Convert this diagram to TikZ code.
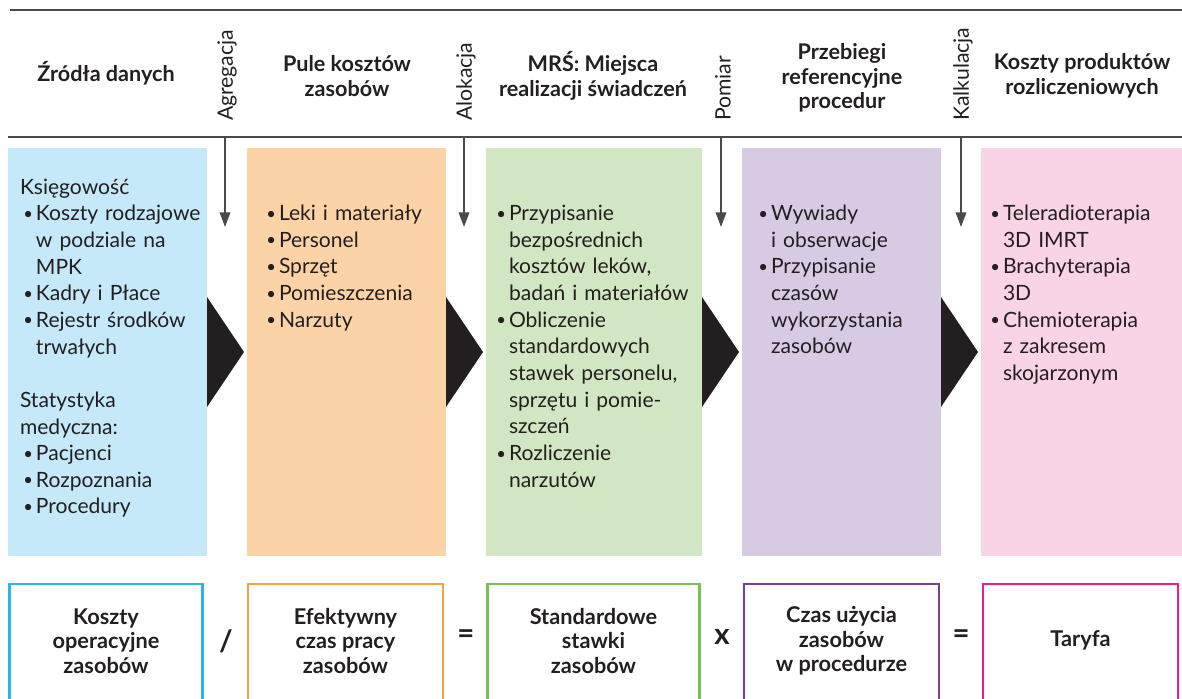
\documentclass[tikz,border=0pt]{standalone}
\usepackage{fontspec}
\setmainfont{Lato}
\usetikzlibrary{calc,arrows.meta}

\definecolor{ink}{HTML}{231F20}
\definecolor{rulegray}{HTML}{4A4A4A}
\definecolor{blueF}{HTML}{C6E9F9}
\definecolor{orangeF}{HTML}{FCD3A7}
\definecolor{greenF}{HTML}{D1E7C3}
\definecolor{purpleF}{HTML}{D7CBE4}
\definecolor{pinkF}{HTML}{F8D4E6}
\definecolor{blueL}{HTML}{29B6EC}
\definecolor{orangeL}{HTML}{F7A145}
\definecolor{greenL}{HTML}{79C050}
\definecolor{purpleL}{HTML}{7A3E98}
\definecolor{pinkL}{HTML}{EC1C8C}

\newcommand{\pxu}{0.75pt}
\newcommand{\itm}{\makebox[12pt][l]{\hspace{2.5pt}\raisebox{1pt}{\fontsize{12.5}{12}\selectfont\textbullet}}}
\newcommand{\ind}{\hspace*{12pt}}

\begin{document}
\begin{tikzpicture}[x=0.75pt,y=-0.75pt,
    every node/.style={text=ink,inner sep=0pt,outer sep=0pt},
    colbox/.style={minimum height=408*\pxu,anchor=north west},
    boxtext/.style={anchor=base west,align=left,text width=230*\pxu,font=\fontsize{15.8}{20}\selectfont},
    head/.style={align=center,font=\bfseries\fontsize{16.2}{18.5}\selectfont},
    steplab/.style={rotate=90,anchor=west,font=\fontsize{15.9}{18}\selectfont},
    flow/.style={draw=rulegray,line width=1.1pt,-{Triangle[width=8pt,length=11pt]}},
    sepline/.style={draw=rulegray,line width=1.1pt},
    eqbox/.style={draw,line width=1.6pt,minimum height=130*\pxu,anchor=north west},
    eqtext/.style={align=center,font=\bfseries\fontsize{16.3}{18.4}\selectfont},
    opsym/.style={font=\bfseries\fontsize{22}{24}\selectfont}]
			\clip (0,0) rectangle (1182,699);

			% header rules
			\draw[sepline] (10,10) -- (1182,10);
			\draw[sepline] (8,137) -- (1182,137);

			% coloured columns
			\foreach \n/\xa/\xb/\col in {1/8/207/blueF, 2/247/446/orangeF, 3/486/702/greenF, 4/742/941/purpleF, 5/981/1182/pinkF} {
				\node[colbox, fill=\col, minimum width=(\xb-\xa)*\pxu] (s\n) at (\xa,148) {};
			};
			\foreach \n in {1,...,4} {
				\fill[ink] ($(s\n.east)+(0,-55)$) -- ($(s\n.east)+(37,0)$) -- ($(s\n.east)+(0,55)$) -- cycle;
			};

			% headers
			\node[head] (h1) at (106,73) {Źródła danych};
			\node[head] (h2) at (347,76) {Pule kosztów\\zasobów};
			\node[head] (h3) at (593,76) {MRŚ: Miejsca\\realizacji świadczeń};
			\node[head] (h4) at (842,78) {Przebiegi\\referencyjne\\procedur};
			\node[head] (h5) at (1082,76) {Koszty produktów\\rozliczeniowych};

			% steps between columns
			\foreach \x/\lab [count=\i] in {225/Agregacja, 464/Alokacja, 721/Pomiar, 961/Kalkulacja} {
				\node[steplab] (v\i) at (\x+2,121) {\lab};
				\coordinate (p\i) at (\x,137);
				\coordinate (q\i) at (\x,227);
				\draw[flow] (p\i) -- (q\i);
			};

			% column contents
			\node[boxtext] (t1) at (20,194) {Księgowość\\
				\itm Koszty rodzajowe\\
				\ind w podziale na\\
				\ind MPK\\
				\itm Kadry i Płace\\
				\itm Rejestr środków\\
				\ind trwałych\\[20pt]
				Statystyka\\
				medyczna:\\
				\itm Pacjenci\\
				\itm Rozpoznania\\
				\itm Procedury};
			\node[boxtext] (t2) at (263,220.5) {\itm Leki i materiały\\
				\itm Personel\\
				\itm Sprzęt\\
				\itm Pomieszczenia\\
				\itm Narzuty};
			\node[boxtext] (t3) at (493,220.5) {\itm Przypisanie\\
				\ind bezpośrednich\\
				\ind kosztów leków,\\
				\ind badań i materiałów\\
				\itm Obliczenie\\
				\ind standardowych\\
				\ind stawek personelu,\\
				\ind sprzętu i pomie-\\
				\ind szczeń\\
				\itm Rozliczenie\\
				\ind narzutów};
			\node[boxtext] (t4) at (755,220.5) {\itm Wywiady\\
				\ind i obserwacje\\
				\itm Przypisanie\\
				\ind czasów\\
				\ind wykorzystania\\
				\ind zasobów};
			\node[boxtext] (t5) at (987,220.5) {\itm Teleradioterapia\\
				\ind 3D IMRT\\
				\itm Brachyterapia\\
				\ind 3D\\
				\itm Chemioterapia\\
				\ind z zakresem\\
				\ind skojarzonym};

			% formula row
			\foreach \n/\xa/\xb/\col in {1/9.5/202.5/blueL, 2/248/443/orangeL, 3/487.5/699.5/greenL, 4/744/939/purpleL, 5/983/1178/pinkL} {
				\node[eqbox, draw=\col, minimum width=(\xb-\xa)*\pxu] (o\n) at (\xa,584) {};
			};
			\node[eqtext] (e1) at ($(o1.north)+(0,57)$) {Koszty\\operacyjne\\zasobów};
			\node[eqtext] (e2) at ($(o2.north)+(0,57)$) {Efektywny\\czas pracy\\zasobów};
			\node[eqtext] (e3) at ($(o3.north)+(0,57)$) {Standardowe\\stawki\\zasobów};
			\node[eqtext] (e4) at ($(o4.north)+(0,57)$) {Czas użycia\\zasobów\\w procedurze};
			\node[eqtext] (e5) at ($(o5.north)+(0,56)$) {Taryfa};
			\node[opsym] (m1) at (226,641) {/};
			\node[opsym] (m2) at (466,637) {=};
			\node[opsym] (m3) at (722,637) {x};
			\node[opsym] (m4) at (961,637) {=};
		\end{tikzpicture}
\end{document}
